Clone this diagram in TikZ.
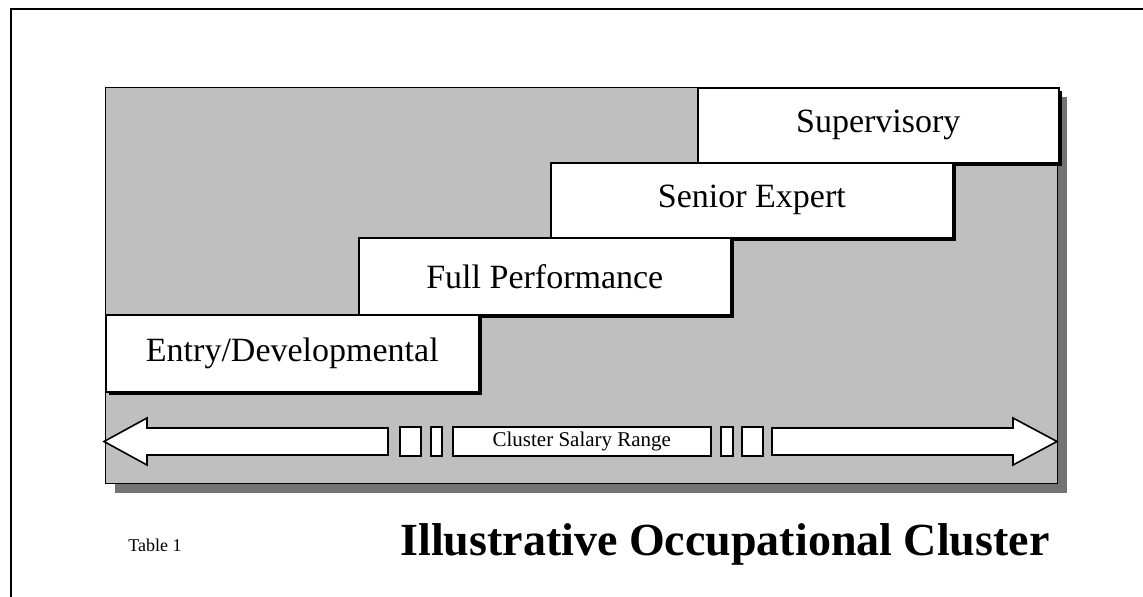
\documentclass[tikz,border=0pt]{standalone}
\usepackage{fontspec}
\setmainfont{Liberation Serif}
\usetikzlibrary{positioning,shadows}

\tikzset{
  level/.style={draw, line width=0.8pt, fill=white, anchor=north west, inner sep=0pt,
    font=\fontsize{17}{20}\selectfont,
    drop shadow={shadow xshift=1.5pt, shadow yshift=-1.5pt, fill=black, opacity=1}},
  seg/.style={draw, line width=0.8pt, fill=white, anchor=west, inner sep=0pt,
    minimum height=14.5pt, font=\fontsize{10.5}{12}\selectfont},
}

\begin{document}
\begin{tikzpicture}[x=0.5pt,y=-0.5pt]
\useasboundingbox (0,0) rectangle (1143,597);

% Outer frame
\draw[line width=0.6pt] (11,597) -- (11,9) -- (1143,9);

% Shaded panel with its shadow
\fill[black!55] (115,97) rectangle (1067,493);
\fill[black!25] (105,87) rectangle (1057,483);
\draw[line width=0.4pt] (105,87) rectangle (1057,483);

% Career levels
\node[level, minimum width=180.5pt, minimum height=37.5pt] (super)  at (697,87)  {Supervisory};
\node[level, minimum width=201pt,   minimum height=37.5pt] (senior) at (550,162) {Senior Expert};
\node[level, minimum width=186pt,   minimum height=38.5pt] (full)   at (358,237) {Full Performance};
\node[level, minimum width=186.5pt, minimum height=38.5pt] (entry)  at (105,314) {Entry/Developmental};

% Salary range arrow, left and right heads
\coordinate (ltip) at (104,441.5);
\coordinate (rtip) at (1057,441.5);
\draw[line width=0.8pt, fill=white] (ltip) -- (147,418) -- (147,428) -- (388,428)
  -- (388,455) -- (147,455) -- (147,465) -- cycle;
\draw[line width=0.8pt, fill=white] (rtip) -- (1013,418) -- (1013,428) -- (772,428)
  -- (772,455) -- (1013,455) -- (1013,465) -- cycle;

% Gaps in the range
\node[seg, minimum width=10.5pt] (gapa) at (399,441.5) {};
\node[seg, minimum width=5.5pt]  (gapb) at (430,441.5) {};
\node[seg, minimum width=129pt]  (range) at (452,441.5) {Cluster Salary Range};
\node[seg, minimum width=6pt]    (gapc) at (720,441.5) {};
\node[seg, minimum width=10.5pt] (gapd) at (741,441.5) {};

% Caption
\node[anchor=base west, inner sep=0pt, font=\fontsize{9}{11}\selectfont] (tab) at (128,551) {Table 1};
\node[anchor=base, inner sep=0pt, font=\bfseries\fontsize{23}{28}\selectfont] (title) at (725,555) {Illustrative Occupational Cluster};

\end{tikzpicture}
\end{document}
